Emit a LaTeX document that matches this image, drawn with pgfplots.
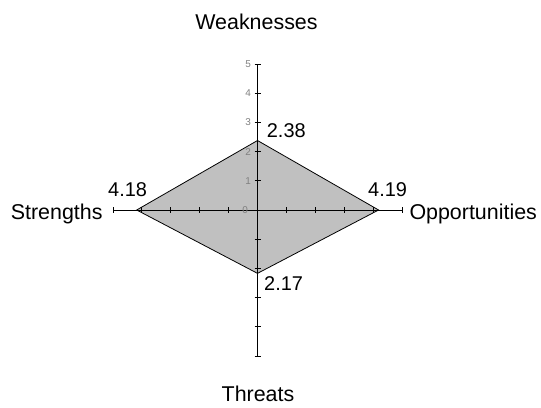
\documentclass[border=0pt]{standalone}
\usepackage{fontspec}
\setmainfont{Liberation Sans}
\usepackage{pgfplots}
\pgfplotsset{compat=1.18}
\definecolor{fillgray}{RGB}{192,192,192}
\definecolor{ticklab}{RGB}{128,128,128}
\begin{document}
\begin{tikzpicture}
\useasboundingbox (-257.5bp,-198bp) rectangle (283.5bp,210bp);
\begin{axis}[
  anchor=origin, at={(0,0)},
  scale only axis, width=289bp, height=292bp,
  xmin=-5, xmax=5, ymin=-5, ymax=5,
  axis lines=center, axis line style={-, black, line width=0.8pt},
  axis on top,
  xtick={-5,...,5}, ytick={-5,...,5},
  xticklabels={}, yticklabels={,,,,,0,1,2,3,4,5},
  tick align=center, major tick length=6bp,
  tick style={black, line width=0.8pt},
  yticklabel style={font=\fontsize{10}{12}\selectfont, text=ticklab},
  /pgf/number format/assume math mode=true,
  clip=false,
]
\addplot[draw=black, line width=0.8pt, fill=fillgray] coordinates {(0,2.38) (4.19,0) (0,-2.17) (-4.18,0)} -- cycle;
\end{axis}
\begin{scope}[every node/.style={inner sep=0pt}]
\node[anchor=east, text=ticklab] at (-9.5bp,0bp) {\fontsize{10}{12}\selectfont 0};
\node[anchor=base] at (-1bp,180bp) {\fontsize{21.5}{24}\selectfont Weaknesses};
\node[anchor=base] at (0.5bp,-191.7bp) {\fontsize{21.5}{24}\selectfont Threats};
\node[anchor=base west] at (151.8bp,-9bp) {\fontsize{21.5}{24}\selectfont Opportunities};
\node[anchor=base east] at (-154.8bp,-9bp) {\fontsize{21.5}{24}\selectfont Strengths};
\node[anchor=base west] at (9.2bp,72bp) {\fontsize{20}{24}\selectfont 2.38};
\node[anchor=base west] at (110.5bp,14bp) {\fontsize{20}{24}\selectfont 4.19};
\node[anchor=base west] at (-149.5bp,14bp) {\fontsize{20}{24}\selectfont 4.18};
\node[anchor=base west] at (6.5bp,-80bp) {\fontsize{20}{24}\selectfont 2.17};
\end{scope}
\end{tikzpicture}
\end{document}
